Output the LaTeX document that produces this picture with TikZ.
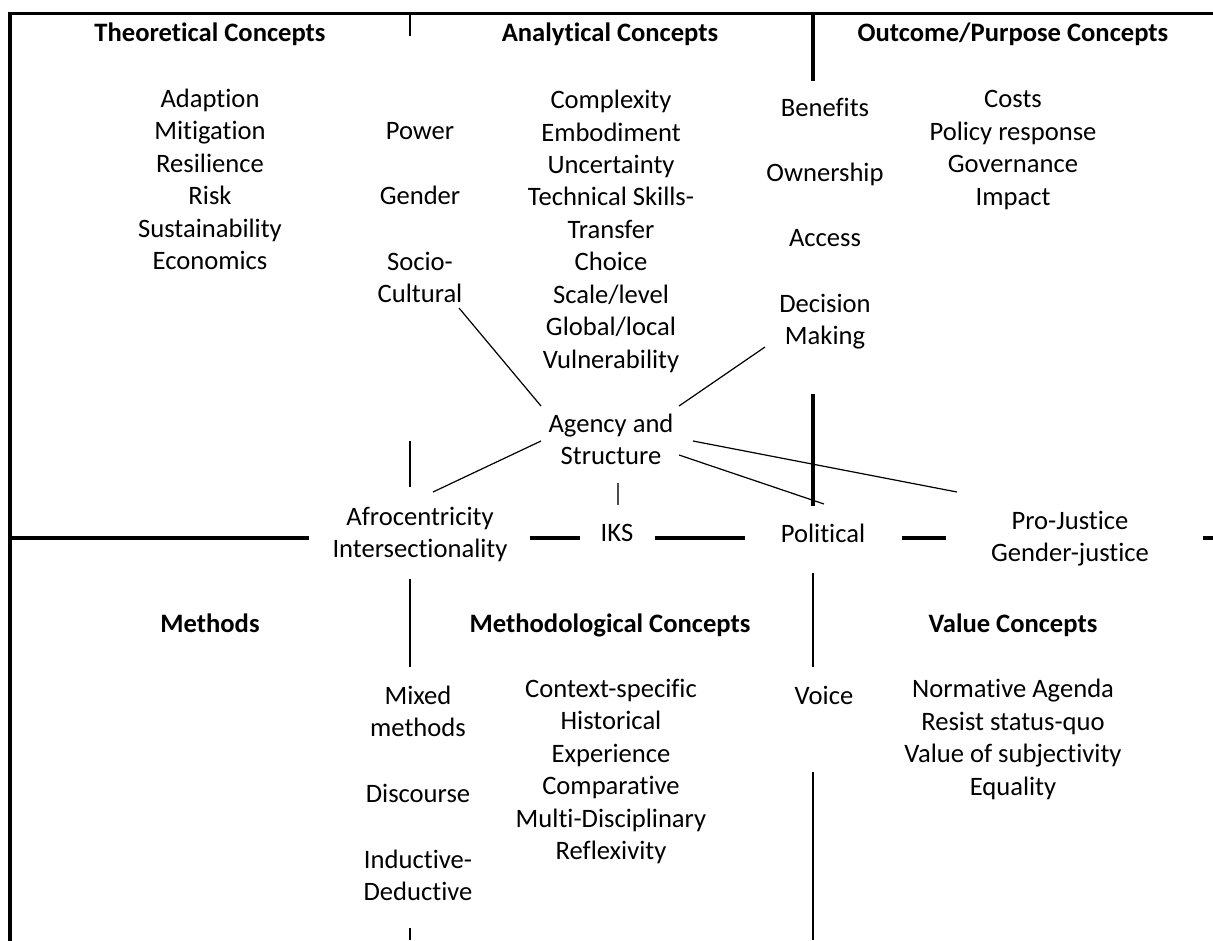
\documentclass[tikz,border=0pt]{standalone}
\usepackage{fontspec}
\setmainfont[RawFeature={-liga;-clig;-calt;-dlig}]{Carlito}
\begin{document}
\begin{tikzpicture}[x={(0.4135pt,0)},y={(0,-0.4135pt)},
  lbl/.style={inner sep=0pt,align=center,yshift=-0.8pt,font=\fontsize{11}{13.43}\selectfont},
  ttl/.style={lbl,font=\fontsize{11}{13.43}\selectfont\bfseries},
  frame/.style={line width=1.4pt,line cap=rect},
  thin/.style={line width=0.8pt},
  link/.style={line width=0.5pt}]
\useasboundingbox (0,0) rectangle (1213,940);
% frame and dividers
\draw[frame,line join=miter] (10,940) -- (10,13.5) -- (1213,13.5);
\draw[frame] (813,13.5) -- (813,79);
\draw[frame] (813,396) -- (813,504);
\draw[frame,line cap=butt] (10,538) -- (309,538);
\draw[frame,line cap=butt] (530,538) -- (580,538);
\draw[frame,line cap=butt] (655,538) -- (745,538);
\draw[frame,line cap=butt] (902,538) -- (946,538);
\draw[frame,line cap=butt] (1203,538) -- (1213,538);
\draw[thin] (410,13.5) -- (410,36);
\draw[thin] (410,441) -- (410,487);
\draw[thin] (410,579) -- (410,667);
\draw[thin] (410,928) -- (410,940);
\draw[thin] (813,573) -- (813,667);
\draw[thin] (813,772) -- (813,940);
% titles
\node[ttl] (tTheo) at (210,33) {\strut Theoretical Concepts};
\node[ttl] (tAna) at (610,33) {\strut Analytical Concepts};
\node[ttl] (tOut) at (1013,33) {\strut Outcome/Purpose Concepts};
\node[ttl] (tMeth) at (210,624) {\strut Methods};
\node[ttl] (tMC) at (610,624) {\strut Methodological Concepts};
\node[ttl] (tVal) at (1013,624) {\strut Value Concepts};
% lists
\node[lbl] (theo) at (210,180) {\strut Adaption\\\strut Mitigation\\\strut Resilience\\\strut Risk\\\strut Sustainability\\\strut Economics};
\node[lbl] (power) at (420,131) {\strut Power};
\node[lbl] (gender) at (420,196) {\strut Gender};
\node[lbl] (socio) at (420,278) {\strut Socio-\\\strut Cultural};
\node[lbl] (ana) at (611,230) {\strut Complexity\\\strut Embodiment\\\strut Uncertainty\\\strut Technical Skills-\\\strut Transfer\\\strut Choice\\\strut Scale/level\\\strut Global/local\\\strut Vulnerability};
\node[lbl] (benef) at (825,108) {\strut Benefits};
\node[lbl] (owner) at (825,173) {\strut Ownership};
\node[lbl] (access) at (825,238) {\strut Access};
\node[lbl] (decision) at (825,320) {\strut Decision\\\strut Making};
\node[lbl] (outc) at (1013,148) {\strut Costs\\\strut Policy response\\\strut Governance\\\strut Impact};
\node[lbl] (agency) at (611,440) {\strut Agency and\\\strut Structure};
\node[lbl] (afro) at (420,533) {\strut Afrocentricity\\\strut Intersectionality};
\node[lbl] (iks) at (617,533) {\strut IKS};
\node[lbl] (political) at (823,534) {\strut Political};
\node[lbl] (justice) at (1070,537) {\strut Pro-Justice\\\strut Gender-justice};
\node[lbl] (mixed) at (418,712) {\strut Mixed\\\strut methods};
\node[lbl] (discourse) at (418,794) {\strut Discourse};
\node[lbl] (induct) at (418,876) {\strut Inductive-\\\strut Deductive};
\node[lbl] (mcl) at (611,770) {\strut Context-specific\\\strut Historical\\\strut Experience\\\strut Comparative\\\strut Multi-Disciplinary\\\strut Reflexivity};
\node[lbl] (voice) at (824,696) {\strut Voice};
\node[lbl] (vals) at (1013,738) {\strut Normative Agenda\\\strut Resist status-quo\\\strut Value of subjectivity\\\strut Equality};
% connector end points
\coordinate (sE) at (459,308);
\coordinate (aNW) at (541,406);
\coordinate (dE) at (765,347);
\coordinate (aNE) at (679,406);
\coordinate (aW) at (541,441);
\coordinate (fE) at (433,492);
\coordinate (aSE) at (679,455);
\coordinate (pE) at (824,504);
\coordinate (aE) at (693,441);
\coordinate (jE) at (957,492);
\coordinate (aS) at (618,483);
\coordinate (iN) at (618,505);
% connectors
\draw[link] (sE) -- (aNW);
\draw[link] (dE) -- (aNE);
\draw[link] (aW) -- (fE);
\draw[link] (aSE) -- (pE);
\draw[link] (aE) -- (jE);
\draw[link,black!70] (aS) -- (iN);
\end{tikzpicture}
\end{document}
